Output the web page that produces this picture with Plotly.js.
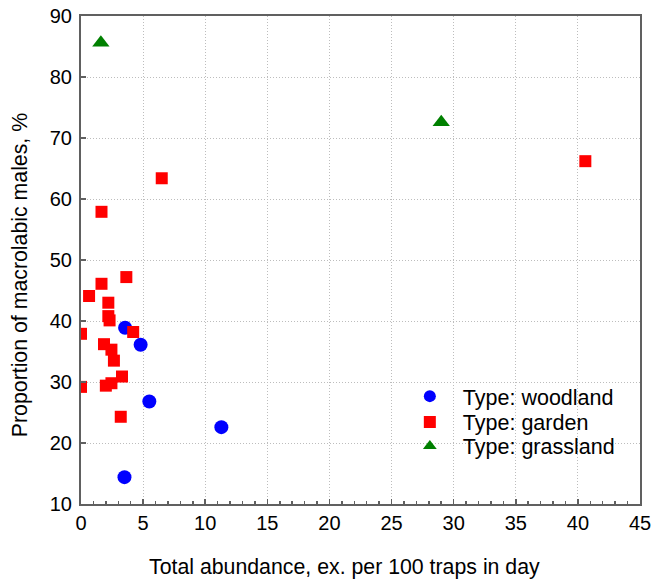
<!DOCTYPE html>
<html>
<head>
<meta charset="utf-8">
<script src="https://cdn.plot.ly/plotly-3.0.1.min.js"></script>
<style>
  html, body { margin: 0; padding: 0; background: #fff; }
  #chart { width: 652px; height: 580px; }
</style>
</head>
<body>
<div id="chart"></div>
<script>
// Woodland sites
const woodlandX = [3.55, 4.8, 5.5, 11.3, 3.5];
const woodlandY = [38.9, 36.1, 26.8, 22.6, 14.4];

// Garden sites
const gardenX = [0, 0, 0.65, 1.65, 1.65, 3.65, 2.2, 2.2, 2.3, 1.85, 2.45, 2.65, 3.3, 2.45, 2.0, 3.2, 4.2, 6.5, 40.6];
const gardenY = [37.9, 29.2, 44.1, 46.1, 57.9, 47.2, 43.0, 40.8, 40.1, 36.2, 35.3, 33.5, 30.9, 29.8, 29.4, 24.3, 38.2, 63.4, 66.2];

// Grassland sites
const grasslandX = [1.6, 29.0];
const grasslandY = [85.6, 72.6];

const labels = ['Type: woodland', 'Type: garden', 'Type: grassland'];
const xTitle = 'Total abundance, ex. per 100 traps in day';
const yTitle = 'Proportion of macrolabic males, %';

const family = 'Liberation Sans, Arial, sans-serif';

const traces = [
  {
    x: woodlandX, y: woodlandY, name: labels[0], type: 'scatter', mode: 'markers', legend: 'legend',
    marker: { symbol: 'circle', size: 14, color: '#0000ff', line: { width: 0 } }
  },
  {
    x: gardenX, y: gardenY, name: labels[1], type: 'scatter', mode: 'markers', legend: 'legend2',
    marker: { symbol: 'square', size: 12, color: '#ff0000', line: { width: 0 } }
  },
  {
    x: grasslandX, y: grasslandY, name: labels[2], type: 'scatter', mode: 'markers', legend: 'legend3',
    marker: { symbol: 'triangle-up', size: 15, color: '#008000', line: { width: 0 } }
  }
];

const axisCommon = {
  showline: true, linecolor: '#606060', linewidth: 2, mirror: true,
  ticks: 'inside', ticklen: 5, tickcolor: '#606060', tickwidth: 1.5,
  showgrid: true, gridcolor: '#bdbdbd', griddash: '1px,2px', gridwidth: 1,
  zeroline: false, tickfont: { family: family, size: 20, color: '#000' }
};

// one legend box per entry so the rows sit tightly stacked
function legendBox(yPos) {
  return {
    x: 0.565, y: yPos, xanchor: 'left', yanchor: 'middle',
    bgcolor: 'rgba(0,0,0,0)', borderwidth: 0,
    font: { family: family, size: 21.5, color: '#000' },
    itemsizing: 'constant', itemwidth: 56
  };
}

const titleFont = { family: family, size: 21.3, color: '#000' };

const layout = {
  width: 652, height: 580,
  margin: { l: 81, r: 12, t: 16, b: 76 },
  paper_bgcolor: '#fff', plot_bgcolor: '#fff',
  font: { family: family, size: 20, color: '#000' },
  showlegend: true,
  legend: legendBox(0.221),
  legend2: legendBox(0.168),
  legend3: legendBox(0.119),
  xaxis: Object.assign({}, axisCommon, {
    range: [0, 45], dtick: 5, tick0: 0,
    minor: { dtick: 1, ticks: 'inside', ticklen: 3, tickcolor: '#606060', showgrid: false }
  }),
  yaxis: Object.assign({}, axisCommon, {
    range: [10, 90], dtick: 10, tick0: 10, ticklabelstandoff: 3
  }),
  // axis titles placed as paper annotations
  annotations: [
    {
      text: xTitle, xref: 'paper', yref: 'paper', x: 0.4705, y: -0.129,
      xanchor: 'center', yanchor: 'middle', showarrow: false, font: titleFont
    },
    {
      text: yTitle, xref: 'paper', yref: 'paper', x: -0.109, y: 0.469, textangle: -90,
      xanchor: 'center', yanchor: 'middle', showarrow: false, font: titleFont
    }
  ]
};

Plotly.newPlot('chart', traces, layout, { displayModeBar: false, staticPlot: true });
</script>
</body>
</html>
